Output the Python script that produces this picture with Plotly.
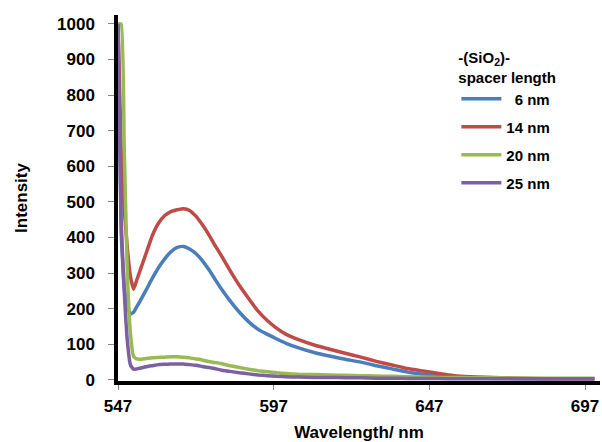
import plotly.graph_objects as go

wavelength = [547, 548, 549, 550, 551, 552, 553, 554, 556, 558, 560, 562, 564, 566, 568, 570,
              572, 574, 576, 578, 580, 583, 586, 589, 592, 595, 598, 601, 605, 610, 615, 620,
              625, 630, 635, 640, 645, 650, 655, 660, 670, 680, 690, 700]

int_6nm = [1000, 420, 260, 210, 185, 190, 205, 220, 252, 285, 315, 340, 360, 372, 375, 368,
           355, 336, 312, 285, 258, 222, 190, 163, 142, 128, 115, 103, 90, 77, 67, 58,
           50, 40, 31, 22, 16, 11, 8, 6, 4, 3, 3, 3]
int_14nm = [1000, 650, 480, 370, 290, 255, 280, 305, 355, 405, 440, 462, 473, 478, 481, 476,
            460, 437, 410, 380, 352, 307, 265, 228, 193, 166, 145, 128, 113, 98, 86, 75,
            64, 52, 42, 32, 25, 18, 12, 9, 6, 4, 3, 3]
int_20nm = [1000, 1000, 650, 300, 130, 66, 59, 58, 60, 62, 63, 64, 65, 65, 64, 62,
            59, 56, 52, 49, 46, 40, 35, 30, 26, 23, 20, 18, 16, 15, 14, 13,
            12, 11, 10, 9, 8, 7, 7, 6, 6, 5, 5, 5]
int_25nm = [1000, 450, 250, 110, 42, 30, 31, 33, 37, 40, 43, 44, 45, 45, 45, 43,
            41, 38, 35, 32, 28, 24, 20, 17, 14, 12, 10, 9, 8, 7, 7, 6,
            6, 5, 5, 4, 4, 4, 3, 3, 3, 3, 3, 3]

series_names = ["  6 nm", "14 nm", "20 nm", "25 nm"]
series_values = [int_6nm, int_14nm, int_20nm, int_25nm]
series_colors = ["#4A7EBB", "#BE4B48", "#98B954", "#7D60A0"]

x_ticks = [547, 597, 647, 697]
y_ticks = [0, 100, 200, 300, 400, 500, 600, 700, 800, 900, 1000]

FONT = "Liberation Sans, Arial, sans-serif"

fig = go.Figure()
for i, (name, vals, col) in enumerate(zip(series_names, series_values, series_colors)):
    fig.add_trace(go.Scatter(
        x=wavelength, y=vals, mode="lines", name=name,
        line=dict(color=col, width=3.5, shape="spline", smoothing=0.4),
        legendgroup=f"g{i}",
    ))

fig.update_layout(
    width=602, height=442,
    margin=dict(l=118, r=2, t=15, b=61),
    paper_bgcolor="white", plot_bgcolor="white",
    font=dict(family=FONT, size=16, color="black"),
    showlegend=True,
    legend=dict(
        x=0.702, y=0.922, xanchor="left", yanchor="top",
        title=dict(text="<b>-(SiO<sub>2</sub>)-<br>spacer length</b>",
                   font=dict(family=FONT, size=15, color="black"), side="top"),
        font=dict(family=FONT, size=15, color="black", weight="bold"),
        bgcolor="rgba(0,0,0,0)",
        tracegroupgap=5.5,
        traceorder="grouped",
        itemwidth=40,
    ),
    xaxis=dict(
        range=[547, 701.8], tickvals=x_ticks, ticktext=[str(t) for t in x_ticks],
        showgrid=False, zeroline=False, automargin=False,
        showline=True, linecolor="black", linewidth=3.5,
        ticks="outside", ticklen=5, tickwidth=1, tickcolor="#888888",
        ticklabelstandoff=2,
        tickfont=dict(family=FONT, size=17, color="black", weight="bold"),
        title=dict(text="<b>Wavelength/ nm</b>", font=dict(family=FONT, size=17, color="black")),
    ),
    yaxis=dict(
        range=[-3, 1025], tickvals=y_ticks,
        showgrid=False, zeroline=False, automargin=False,
        showline=True, linecolor="black", linewidth=3.5,
        ticks="outside", ticklen=6, tickwidth=1, tickcolor="#888888",
        ticklabelstandoff=10,
        tickfont=dict(family=FONT, size=17, color="black", weight="bold"),
        title=dict(text="<b>Intensity</b>", font=dict(family=FONT, size=17, color="black"), standoff=26),
    ),
)

fig.write_html(
    "out.html",
    config={"displayModeBar": False},
    post_script="document.body.style.margin='0';document.body.style.padding='0';",
)
